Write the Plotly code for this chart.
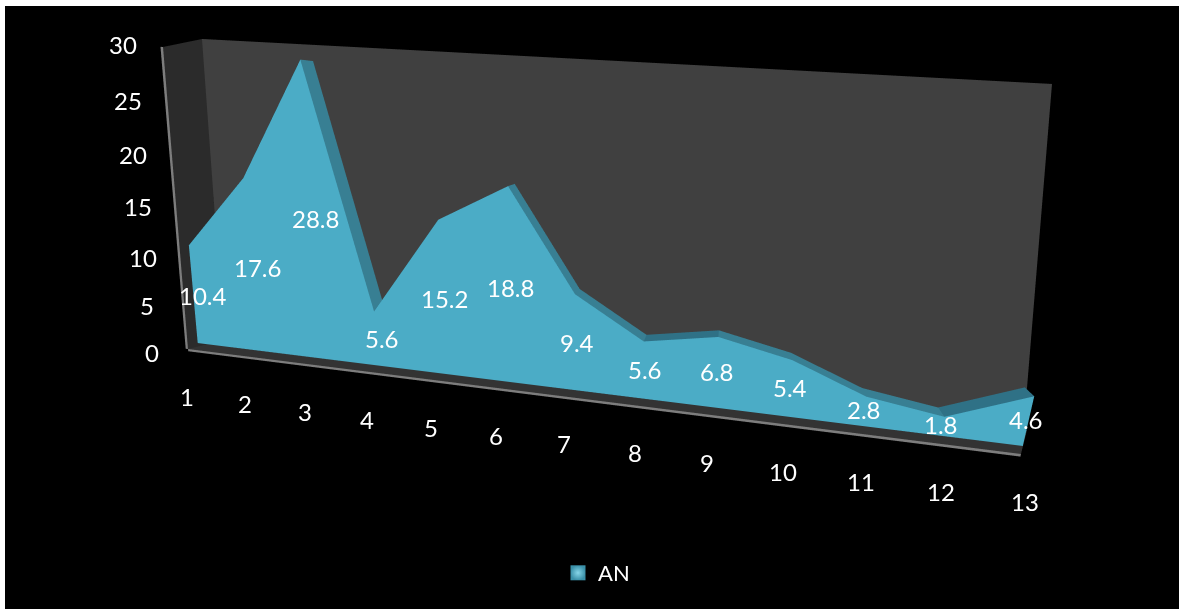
import numpy as np
import plotly.graph_objects as go

# Series and axis labels
categories = [1, 2, 3, 4, 5, 6, 7, 8, 9, 10, 11, 12, 13]
values = [10.4, 17.6, 28.8, 5.6, 15.2, 18.8, 9.4, 5.6, 6.8, 5.4, 2.8, 1.8, 4.6]
value_ticks = [0, 5, 10, 15, 20, 25, 30]
series_name = "AN"

W, H = 1179, 609
FRONT, BACK = 0.15312, 0.43   # depth span of the area band on the floor
TEXT = dict(color="white", size=24, family="Lato, Carlito, sans-serif")

# Chart frame in data space: back wall, left wall, floor
BACK_WALL = [(0.979, 0.705, -0.995), (13.23, 0.705, -0.132), (12.673, 0.705, 29.949), (1.018, 0.705, 30.443)]
LEFT_WALL = [(0.95, 0.014, -0.357), (0.95, 0.737, -1.095), (0.95, 0.782, 30.477), (0.95, 0.074, 29.292)]
FLOOR = [(1.057, -0.096, 0), (12.887, -0.081, 0), (13.252, 0.66, 0), (1.268, 0.38, 0)]
FLOOR_EDGE = [(1.057, -0.096, -0.24), (12.887, -0.081, -0.24), (12.887, -0.081, 0), (1.057, -0.096, 0)]
WALL_EDGE = [(0.91, 0.014, -0.357), (0.95, 0.014, -0.357), (0.95, 0.074, 29.292), (0.91, 0.074, 29.292)]

cat = np.array(categories, float)
val = np.array(values, float)
xr, yr, zr = [0, 14], [-1, 2], [-15, 45]
scale = np.array([2 / 12, 0.19149, 0.02503])
aspect = scale * [14, 3, 60]


def quads(verts, color, faces=None):
    """Mesh trace from a vertex list and quad index tuples, with flat unlit colour."""
    v = np.array(verts, float)
    faces = faces or [(0, 1, 2, 3)]
    i, j, k, fc = [], [], [], []
    for n, q in enumerate(faces):
        c = color[n] if isinstance(color, list) else color
        i += [q[0], q[0]]; j += [q[1], q[2]]; k += [q[2], q[3]]; fc += [c, c]
    return go.Mesh3d(x=v[:, 0], y=v[:, 1], z=v[:, 2], i=i, j=j, k=k, facecolor=fc, flatshading=True,
                     lighting=dict(ambient=1, diffuse=0, specular=0, fresnel=0, roughness=1),
                     hoverinfo="skip", showscale=False, showlegend=False)


traces = [
    quads(BACK_WALL, "#404040"),
    quads(LEFT_WALL, "#2b2b2b"),
    quads(FLOOR, "#333333"),
    quads(WALL_EDGE, "#7d7d7d"),
    quads(FLOOR_EDGE, "#7d7d7d"),
]

# Area band: front face, then the sloped top strips
n = len(cat)
strip = [(a, a + 1, a + 1 + n, a + n) for a in range(n - 1)]
front = [(c, FRONT, 0) for c in cat] + [(c, FRONT, v) for c, v in zip(cat, val)]
traces.append(quads(front, "#4BACC6", strip))
top = [(c, FRONT, v) for c, v in zip(cat, val)] + [(c, BACK, v) for c, v in zip(cat, val)]
colors = ["#2F7186" if val[a + 1] > val[a] else "#387F93" for a in range(n - 1)]
traces.append(quads(top, colors, strip))

# Legend entry
traces.append(go.Scatter(x=[None], y=[None], mode="markers", name=series_name, showlegend=True,
                         marker=dict(symbol="square", size=15, color="#3A90A8",
                                     gradient=dict(type="radial", color="#86D6E8"))))

# Camera
eye = np.array([0.32393, -1.67318, 0.28542])
yaw, pitch, roll = -0.17778, -0.26693, 0.05637
fw = np.array([np.sin(yaw) * np.cos(pitch), np.cos(yaw) * np.cos(pitch), np.sin(pitch)])
right = np.cross(fw, [0, 0, 1]); right /= np.linalg.norm(right)
up = np.cross(right, fw)
up = -right * np.sin(roll) + up * np.cos(roll)
center = eye + fw * 1.7


def note(x, y, z, text, dx=0, dy=0):
    return dict(x=x, y=y, z=z, text=str(text), showarrow=False, font=TEXT, xshift=dx, yshift=dy,
                xanchor="center", yanchor="middle")


notes = [note(1, 0, t, t, -38, -6) for t in value_ticks]
notes += [note(c, 0, 0, c, -3, -50) for c in categories]
notes += [note(c, (FRONT + BACK) / 2, v / 2, v, 2, -3) for c, v in zip(categories, values)]

fig = go.Figure(traces)
axis = dict(visible=False, showspikes=False, autorange=False)
fig.update_layout(
    width=W, height=H, margin=dict(l=0, r=0, t=0, b=0), paper_bgcolor="white", plot_bgcolor="rgba(0,0,0,0)",
    shapes=[dict(type="rect", xref="paper", yref="paper", x0=5 / W, x1=1, y0=0, y1=1 - 6 / H,
                 fillcolor="black", line_width=0, layer="below")],
    xaxis=dict(visible=False), yaxis=dict(visible=False),
    legend=dict(x=558 / W, y=1 - 573 / H, xanchor="left", yanchor="middle", bgcolor="rgba(0,0,0,0)",
                font=dict(TEXT, size=22)),
    scene=dict(
        domain=dict(x=[0, 1], y=[0, 1]), bgcolor="rgba(0,0,0,0)", dragmode=False,
        xaxis=dict(axis, range=xr), yaxis=dict(axis, range=yr), zaxis=dict(axis, range=zr),
        aspectmode="manual", aspectratio=dict(x=aspect[0], y=aspect[1], z=aspect[2]),
        camera=dict(eye=dict(x=eye[0], y=eye[1], z=eye[2]),
                    center=dict(x=center[0], y=center[1], z=center[2]),
                    up=dict(x=up[0], y=up[1], z=up[2]),
                    projection=dict(type="perspective")),
        annotations=notes,
    ),
)
fig.write_html("out.html")
